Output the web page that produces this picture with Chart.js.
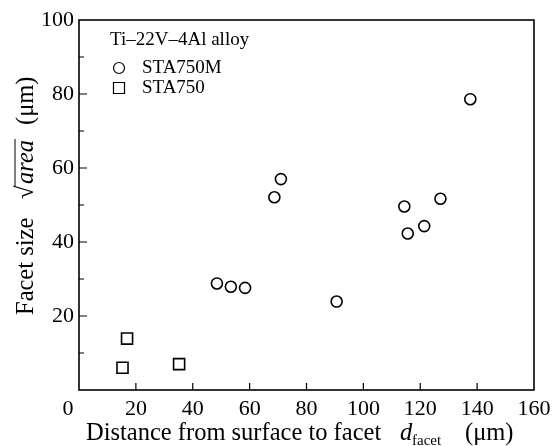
<!DOCTYPE html>
<html>
<head>
<meta charset="utf-8">
<script src="https://cdn.jsdelivr.net/npm/chart.js@4.4.1/dist/chart.umd.min.js"></script>
<style>
html,body{margin:0;padding:0;background:#fff;}
#c{display:block;}
</style>
</head>
<body>
<canvas id="c" width="552" height="446"></canvas>
<script>
// Data
const staMX = [48.5, 53.4, 58.4, 68.7, 71.0, 90.6, 114.4, 115.6, 121.4, 127.1, 137.6];
const staMY = [28.8, 27.9, 27.6, 52.1, 57.0, 23.9, 49.6, 42.3, 44.3, 51.7, 78.6];
const staX = [15.3, 16.9, 35.2];
const staY = [6.0, 13.9, 7.0];
const xTicks = [0, 20, 40, 60, 80, 100, 120, 140, 160];
const yTicks = [0, 20, 40, 60, 80, 100];
const seriesNames = ['STA750M', 'STA750'];
const legendTitle = 'Ti\u201322V\u20134Al alloy';

const FONT = '"Liberation Serif", "DejaVu Serif", serif';
const TF = 24.5; // title font size

const toPts = (xs, ys) => xs.map((x, i) => ({x: x, y: ys[i]}));

const frame = {
  id: 'frame',
  afterDraw(chart) {
    const ctx = chart.ctx, a = chart.chartArea;
    const xs = chart.scales.x, ys = chart.scales.y;
    ctx.save();
    ctx.strokeStyle = '#000';
    ctx.lineWidth = 1.6;
    ctx.strokeRect(a.left, a.top, a.right - a.left, a.bottom - a.top);
    ctx.lineWidth = 1.2;
    ctx.beginPath();
    // inward ticks
    for (let v = 20; v < 160; v += 20) {
      const px = xs.getPixelForValue(v);
      ctx.moveTo(px, a.bottom); ctx.lineTo(px, a.bottom - 7);
    }
    for (let v = 10; v < 100; v += 10) {
      const py = ys.getPixelForValue(v);
      const len = (v % 20 === 0) ? 8 : 5;
      ctx.moveTo(a.left, py); ctx.lineTo(a.left + len, py);
    }
    ctx.stroke();

    ctx.fillStyle = '#000';
    // x title
    ctx.textBaseline = 'alphabetic';
    ctx.textAlign = 'left';
    ctx.font = TF + 'px ' + FONT;
    const xBase = 440;
    ctx.fillText('Distance from surface to facet', 86, xBase);
    ctx.font = 'italic ' + TF + 'px ' + FONT;
    ctx.fillText('d', 400, xBase);
    ctx.font = '15px ' + FONT;
    ctx.fillText('facet', 412, xBase + 5);
    ctx.font = TF + 'px ' + FONT;
    ctx.fillText('(\u03bcm)', 465, xBase);

    // y title (rotated)
    ctx.save();
    ctx.translate(33, 315);
    ctx.rotate(-Math.PI / 2);
    ctx.font = TF + 'px ' + FONT;
    ctx.fillText('Facet size', 0, 0);
    ctx.fillText('\u221a', 116, 0);
    ctx.font = 'italic ' + TF + 'px ' + FONT;
    const aw = ctx.measureText('area').width;
    ctx.fillText('area', 131, 0);
    ctx.lineWidth = 1;
    ctx.beginPath();
    ctx.moveTo(129, -18); ctx.lineTo(131 + aw + 1, -18);
    ctx.stroke();
    ctx.font = TF + 'px ' + FONT;
    ctx.fillText('(\u03bcm)', 190, 0);
    ctx.restore();

    // legend
    ctx.font = '19px ' + FONT;
    ctx.textBaseline = 'middle';
    ctx.fillText(legendTitle, 110, 40);
    const ds = chart.data.datasets;
    const rows = [68, 88];
    ds.forEach((d, i) => {
      ctx.fillStyle = '#fff';
      Chart.helpers.drawPoint(ctx, {
        pointStyle: d.pointStyle, radius: d.pointRadius, borderWidth: d.borderWidth
      }, 119, rows[i]);
      ctx.fillStyle = '#000';
      ctx.fillText(d.label, 142, rows[i]);
    });
    ctx.restore();
  }
};

new Chart(document.getElementById('c'), {
  type: 'scatter',
  data: {
    datasets: [
      {label: seriesNames[0], data: toPts(staMX, staMY), pointStyle: 'circle', pointRadius: 5.5,
       borderColor: '#000', backgroundColor: 'rgba(0,0,0,0)', borderWidth: 1.6},
      {label: seriesNames[1], data: toPts(staX, staY), pointStyle: 'rect', pointRadius: 7.8,
       borderColor: '#000', backgroundColor: 'rgba(0,0,0,0)', borderWidth: 1.6}
    ]
  },
  options: {
    responsive: false,
    animation: false,
    events: [],
    layout: {padding: {left: 0, top: 20, right: 18, bottom: 0}},
    plugins: {legend: {display: false}, tooltip: {enabled: false}},
    scales: {
      x: {
        type: 'linear', min: 0, max: 160,
        afterBuildTicks: s => { s.ticks = xTicks.map(v => ({value: v})); },
        afterFit: s => { s.height = 56; s.paddingLeft = 0; s.paddingRight = 0; },
        grid: {display: false, drawTicks: false},
        border: {display: false},
        ticks: {
          color: '#000', font: {family: FONT, size: 22}, padding: 6, maxRotation: 0,
          callback: v => v === 0 ? '0\u2003' : String(v)
        }
      },
      y: {
        type: 'linear', min: 0, max: 100,
        afterBuildTicks: s => { s.ticks = yTicks.map(v => ({value: v})); },
        afterFit: s => { s.width = 79; s.paddingTop = 0; s.paddingBottom = 0; },
        grid: {display: false, drawTicks: false},
        border: {display: false},
        ticks: {
          color: '#000', font: {family: FONT, size: 22}, padding: 5,
          callback: v => v === 0 ? '' : String(v)
        }
      }
    }
  },
  plugins: [frame]
});
</script>
</body>
</html>
